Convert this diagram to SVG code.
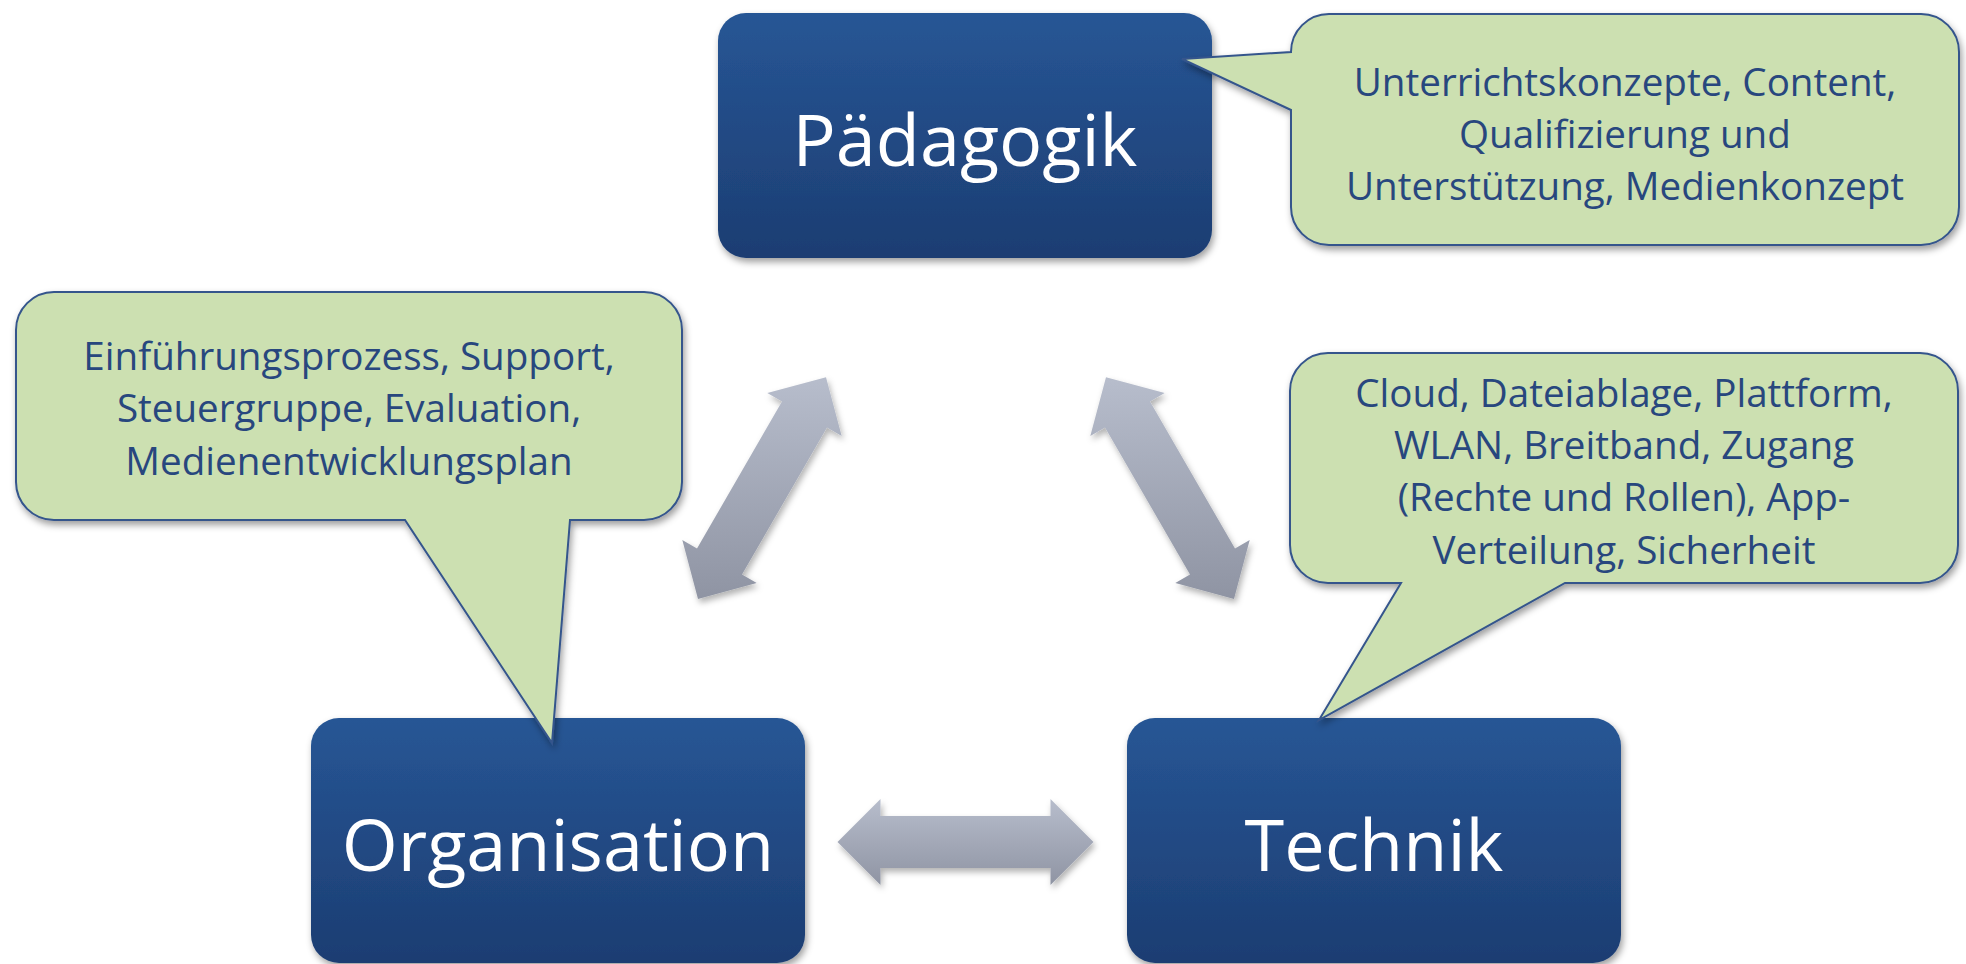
<svg xmlns="http://www.w3.org/2000/svg" width="1966" height="964" viewBox="0 0 1966 964">
  <defs>
    <linearGradient id="boxGrad" x1="0" y1="0" x2="0" y2="1">
      <stop offset="0" stop-color="#275695"/>
      <stop offset="1" stop-color="#1c3d72"/>
    </linearGradient>
    <linearGradient id="arrowGrad" x1="0" y1="0" x2="0" y2="1">
      <stop offset="0" stop-color="#b7bdcc"/>
      <stop offset="1" stop-color="#8f94a3"/>
    </linearGradient>
    <filter id="shadow" x="-10%" y="-10%" width="125%" height="130%">
      <feDropShadow dx="2" dy="4" stdDeviation="3.5" flood-color="#000" flood-opacity="0.38"/>
    </filter>
    <filter id="ashadow" x="-15%" y="-15%" width="135%" height="140%">
      <feDropShadow dx="2" dy="4" stdDeviation="3" flood-color="#000" flood-opacity="0.3"/>
    </filter>
  </defs>
  <style>
    .box { fill: url(#boxGrad); filter: url(#shadow); }
    .boxText { font-family: "Open Sans", "Noto Sans", sans-serif; font-size: 72px; fill: #ffffff; text-anchor: middle; }
    .callout { fill: #cce0b1; stroke: #34558c; stroke-width: 2; stroke-linejoin: miter; filter: url(#shadow); }
    .calloutText { font-family: "Open Sans", "Noto Sans", sans-serif; font-size: 38.6px; fill: #28477e; text-anchor: middle; }
    .arrow { fill: url(#arrowGrad); filter: url(#ashadow); }
  </style>

  <g id="connectors">
    <path class="arrow" d="M 826 377.2 L 767.3 392.9 L 782 401.4 L 697 548.6 L 682.3 540.1 L 698 598.9 L 756.7 583.1 L 742 574.6 L 827 427.4 L 841.7 435.9 Z"/>
    <path class="arrow" d="M 1106 377.2 L 1164.7 392.9 L 1150 401.4 L 1235 548.6 L 1249.7 540.1 L 1234 598.9 L 1175.3 583.1 L 1190 574.6 L 1105 427.4 L 1090.3 435.9 Z"/>
    <path class="arrow" d="M 837.5 842 L 880.5 799 L 880.5 816 L 1050.5 816 L 1050.5 799 L 1093.5 842 L 1050.5 885 L 1050.5 868 L 880.5 868 L 880.5 885 Z"/>
  </g>

  <g id="node-paedagogik">
    <rect class="box" x="718" y="13" width="494" height="245" rx="28" ry="28"/>
    <text class="boxText" x="965" y="166">Pädagogik</text>
  </g>

  <g id="node-organisation">
    <rect class="box" x="311" y="718" width="494" height="245" rx="28" ry="28"/>
    <text class="boxText" x="558" y="871">Organisation</text>
  </g>

  <g id="node-technik">
    <rect class="box" x="1127" y="718" width="494" height="245" rx="28" ry="28"/>
    <text class="boxText" x="1374" y="871">Technik</text>
  </g>

  <g id="callout-paedagogik">
    <path class="callout" d="M 1329 14 H 1921 A 38 38 0 0 1 1959 52 V 207 A 38 38 0 0 1 1921 245 H 1329 A 38 38 0 0 1 1291 207 V 110 L 1182 59 L 1291 52 A 38 38 0 0 1 1329 14 Z"/>
    <text class="calloutText" x="1625" y="96">Unterrichtskonzepte, Content,</text>
    <text class="calloutText" x="1625" y="148">Qualifizierung und</text>
    <text class="calloutText" x="1625" y="200">Unterstützung, Medienkonzept</text>
  </g>

  <g id="callout-organisation">
    <path class="callout" d="M 54 292 H 644 A 38 38 0 0 1 682 330 V 482 A 38 38 0 0 1 644 520 H 570 L 552 743 L 405 520 H 54 A 38 38 0 0 1 16 482 V 330 A 38 38 0 0 1 54 292 Z"/>
    <text class="calloutText" x="349" y="370">Einführungsprozess, Support,</text>
    <text class="calloutText" x="349" y="422">Steuergruppe, Evaluation,</text>
    <text class="calloutText" x="349" y="475">Medienentwicklungsplan</text>
  </g>

  <g id="callout-technik">
    <path class="callout" d="M 1328 353 H 1920 A 38 38 0 0 1 1958 391 V 545 A 38 38 0 0 1 1920 583 H 1565 L 1319 720 L 1401 583 H 1328 A 38 38 0 0 1 1290 545 V 391 A 38 38 0 0 1 1328 353 Z"/>
    <text class="calloutText" x="1624" y="407">Cloud, Dateiablage, Plattform,</text>
    <text class="calloutText" x="1624" y="459">WLAN, Breitband, Zugang</text>
    <text class="calloutText" x="1624" y="511">(Rechte und Rollen), App-</text>
    <text class="calloutText" x="1624" y="564">Verteilung, Sicherheit</text>
  </g>
</svg>
